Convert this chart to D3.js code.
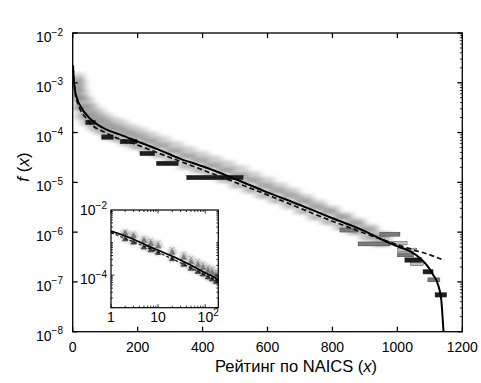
<!DOCTYPE html>
<html><head><meta charset="utf-8">
<script src="https://cdn.jsdelivr.net/npm/d3@7"></script>
<style>body{margin:0;background:#fff}svg{display:block;font-family:"Liberation Sans",Arial,Helvetica,sans-serif}</style>
</head><body><svg id="c" width="481" height="383"></svg>
<script>
// ---- data ----
const fitRank  = [1, 3, 6, 12, 25, 50, 80, 115, 150, 200, 270, 330, 400, 500, 600, 700, 800, 900, 950, 1000, 1040, 1070, 1090, 1110, 1125, 1135, 1142];
const fitValue = [2.24e-3, 1.26e-3, 7.9e-4, 5.2e-4, 3.3e-4, 2.0e-4, 1.4e-4, 1.07e-4, 8.9e-5, 6.6e-5, 4.4e-5, 3.0e-5, 2.1e-5, 1.17e-5, 6.3e-6, 3.5e-6, 1.9e-6, 1.05e-6, 7.2e-7, 5.2e-7, 4.1e-7, 3.0e-7, 2.2e-7, 1.4e-7, 8.9e-8, 4.5e-8, 1.0e-8];
const altRank  = [1, 10, 50, 100, 200, 400, 600, 800, 1000, 1050, 1100, 1145];
const altValue = [2.0e-3, 5.0e-4, 1.66e-4, 1.0e-4, 5.6e-5, 1.78e-5, 5.6e-6, 1.66e-6, 5.6e-7, 4.4e-7, 3.5e-7, 2.7e-7];

const sampleRank  = [2, 3, 5, 7, 10, 20, 35, 50, 70, 90, 115, 140, 170, 200, 235, 270, 310, 350, 390, 430, 470, 510, 550, 590, 630, 670, 710, 750, 790, 830, 870, 910, 950];
const upperValue  = [2.2e-3, 1.9e-3, 1.4e-3, 1.17e-3, 1.0e-3, 6.3e-4, 4.5e-4, 3.4e-4, 2.7e-4, 2.2e-4, 1.8e-4, 1.6e-4, 1.3e-4, 1.1e-4, 9.1e-5, 7.4e-5, 5.8e-5, 4.6e-5, 3.7e-5, 3.0e-5, 2.4e-5, 1.9e-5, 1.45e-5, 1.12e-5, 8.7e-6, 6.8e-6, 5.1e-6, 3.9e-6, 3.0e-6, 2.2e-6, 1.7e-6, 1.26e-6, 9.1e-7];
const middleValue = [1.9e-3, 1.55e-3, 1.12e-3, 9.1e-4, 7.6e-4, 4.9e-4, 3.4e-4, 2.5e-4, 2.0e-4, 1.66e-4, 1.35e-4, 1.17e-4, 9.8e-5, 8.3e-5, 6.8e-5, 5.5e-5, 4.3e-5, 3.4e-5, 2.75e-5, 2.2e-5, 1.78e-5, 1.38e-5, 1.1e-5, 8.5e-6, 6.8e-6, 5.4e-6, 4.2e-6, 3.2e-6, 2.6e-6, 2.0e-6, 1.5e-6, 1.12e-6, 7.9e-7];
const lowerValue  = [1.26e-3, 1.0e-3, 7.1e-4, 5.8e-4, 4.8e-4, 3.1e-4, 2.1e-4, 1.58e-4, 1.26e-4, 1.05e-4, 8.5e-5, 7.4e-5, 6.2e-5, 5.2e-5, 4.3e-5, 3.5e-5, 2.7e-5, 2.1e-5, 1.74e-5, 1.38e-5, 1.12e-5, 8.7e-6, 6.9e-6, 5.4e-6, 4.3e-6, 3.4e-6, 2.6e-6, 2.0e-6, 1.6e-6, 1.26e-6, 1.0e-6, 7.8e-7, 5.8e-7];

const darkBarStart = [40, 89, 146, 207, 258, 351, 1023, 1079, 1116];
const darkBarEnd   = [70, 125, 198, 253, 325, 525, 1075, 1110, 1152];
const darkBarValue = [1.6e-4, 8.1e-5, 6.6e-5, 3.8e-5, 2.4e-5, 1.25e-5, 2.75e-7, 1.6e-7, 5.5e-8];
const greyBarStart = [823, 879, 946, 1000, 1094];
const greyBarEnd   = [876, 977, 1008, 1050, 1131];
const greyBarValue = [1.1e-6, 5.8e-7, 9.1e-7, 3.5e-7, 1.1e-7];
const lightBarStart = [968, 1000, 1040];
const lightBarEnd   = [1030, 1060, 1080];
const lightBarValue = [6.0e-7, 4.4e-7, 2.3e-7];

const xTicks = [0, 200, 400, 600, 800, 1000, 1200];
const yTicks = [1e-8, 1e-7, 1e-6, 1e-5, 1e-4, 1e-3, 1e-2];
const insetXTicks = [1, 10, 100];
const insetYTicks = [1e-4, 1e-2];
const xTitle = "Рейтинг по NAICS (";

// ---- drawing ----
const svg = d3.select("#c");
const x = d3.scaleLinear().domain([0, 1200]).range([72.7, 462.3]);
const y = d3.scaleLog().domain([1e-8, 1e-2]).range([331.7, 33]);

const defs = svg.append("defs");
defs.append("clipPath").attr("id", "mainClip").append("rect")
  .attr("x", x(0)).attr("y", y(1e-2)).attr("width", x(1200) - x(0)).attr("height", y(1e-8) - y(1e-2));
defs.append("filter").attr("id", "blur").attr("x", "-20%").attr("y", "-50%").attr("width", "140%").attr("height", "200%")
  .append("feGaussianBlur").attr("stdDeviation", "3.5 1.4");
defs.append("filter").attr("id", "blur2").attr("x", "-50%").attr("y", "-50%").attr("width", "200%").attr("height", "200%")
  .append("feGaussianBlur").attr("stdDeviation", 1.0);

const plot = svg.append("g").attr("clip-path", "url(#mainClip)");
const exp = v => Math.round(Math.log10(v));

// cloud
const cloud = [
  {vals: upperValue, col: "#c8c8c8", op: 0.85, hw: 30},
  {vals: middleValue, col: "#999999", op: 0.85, hw: 28},
  {vals: lowerValue, col: "#888888", op: 0.6, hw: 24}
];
const cg = plot.append("g").attr("filter", "url(#blur)");
cloud.forEach(s => {
  cg.selectAll(null).data(sampleRank.map((r, i) => ({r, v: s.vals[i]})).filter(d => d.r >= 5))
    .enter().append("rect")
    .attr("x", d => x(Math.max(0, d.r - s.hw))).attr("width", d => x(d.r + s.hw) - x(Math.max(0, d.r - s.hw)))
    .attr("y", d => y(d.v) - 3).attr("height", 6)
    .attr("fill", s.col).attr("opacity", s.op);
});

function bars(starts, ends, vals, col, h) {
  plot.selectAll(null).data(starts.map((s, i) => ({s, e: ends[i], v: vals[i]})))
    .enter().append("rect")
    .attr("x", d => x(d.s)).attr("width", d => x(d.e) - x(d.s))
    .attr("y", d => y(d.v) - h / 2).attr("height", h)
    .attr("fill", col).attr("stroke", "#333").attr("stroke-width", 0.4);
}
bars(lightBarStart, lightBarEnd, lightBarValue, "#bdbdbd", 3.5);
bars(greyBarStart, greyBarEnd, greyBarValue, "#7a7a7a", 4);
bars(darkBarStart, darkBarEnd, darkBarValue, "#1e1e1e", 4.5);

const line = d3.line().x(d => x(d[0])).y(d => y(d[1])).curve(d3.curveMonotoneX);
plot.append("path").datum(altRank.map((r, i) => [r, altValue[i]]))
  .attr("d", line).attr("fill", "none").attr("stroke", "#111").attr("stroke-width", 1.7).attr("stroke-dasharray", "5,3");
plot.append("path").datum(fitRank.map((r, i) => [r, fitValue[i]]))
  .attr("d", line).attr("fill", "none").attr("stroke", "#000").attr("stroke-width", 2);

// axes box
const ax = svg.append("g").attr("stroke", "#000").attr("stroke-width", 1.3);
ax.append("rect").attr("x", x(0)).attr("y", y(1e-2)).attr("width", x(1200) - x(0)).attr("height", y(1e-8) - y(1e-2)).attr("fill", "none");
xTicks.forEach(t => {
  ax.append("line").attr("x1", x(t)).attr("x2", x(t)).attr("y1", y(1e-8)).attr("y2", y(1e-8) - 5);
  ax.append("line").attr("x1", x(t)).attr("x2", x(t)).attr("y1", y(1e-2)).attr("y2", y(1e-2) + 5);
});
yTicks.forEach(t => {
  ax.append("line").attr("x1", x(0)).attr("x2", x(0) + 5).attr("y1", y(t)).attr("y2", y(t));
  ax.append("line").attr("x1", x(1200)).attr("x2", x(1200) - 5).attr("y1", y(t)).attr("y2", y(t));
});
yTicks.slice(0, -1).forEach(t => {
  for (let k = 2; k <= 9; k++) {
    ax.append("line").attr("x1", x(1200)).attr("x2", x(1200) - 2.5).attr("y1", y(t * k)).attr("y2", y(t * k)).attr("stroke-width", 0.8);
  }
});

// labels
svg.selectAll(null).data(xTicks).enter().append("text")
  .attr("x", d => x(d)).attr("y", 352).attr("text-anchor", "middle").attr("font-size", 14).text(d => d);
yTicks.forEach(t => {
  const tx = svg.append("text").attr("x", 63).attr("y", y(t) + 9).attr("text-anchor", "end").attr("font-size", 14);
  tx.append("tspan").text("10");
  tx.append("tspan").attr("dy", -6.5).attr("font-size", 10).text("−" + Math.abs(exp(t)));
});
const xt = svg.append("text").attr("x", 296).attr("y", 372).attr("text-anchor", "middle").attr("font-size", 16.5);
xt.append("tspan").text(xTitle);
xt.append("tspan").attr("font-style", "italic").text("x");
xt.append("tspan").text(")");
const yt = svg.append("text").attr("transform", "translate(29,167) rotate(-90)").attr("text-anchor", "middle").attr("font-size", 17);
yt.append("tspan").attr("font-style", "italic").text("f");
yt.append("tspan").text(" (");
yt.append("tspan").attr("font-style", "italic").text("x");
yt.append("tspan").text(")");

// ---- inset ----
const ix = d3.scaleLog().domain([1, 190]).range([111, 218.3]);
const iy = d3.scaleLog().domain([1e-5, 1e-2]).range([307.7, 210]);
defs.append("clipPath").attr("id", "insetClip").append("rect")
  .attr("x", ix(1)).attr("y", iy(1e-2)).attr("width", ix(190) - ix(1)).attr("height", iy(1e-5) - iy(1e-2));
svg.append("rect").attr("x", ix(1)).attr("y", iy(1e-2)).attr("width", ix(190) - ix(1)).attr("height", iy(1e-5) - iy(1e-2)).attr("fill", "#fff");
const ip = svg.append("g").attr("clip-path", "url(#insetClip)");
const ig = ip.append("g").attr("filter", "url(#blur2)");
cloud.forEach(s => {
  ig.selectAll(null).data(sampleRank.map((r, i) => ({r, v: s.vals[i]})).filter(d => d.r <= 190))
    .enter().append("ellipse")
    .attr("cx", d => ix(d.r)).attr("cy", d => iy(d.v)).attr("rx", 5).attr("ry", 3)
    .attr("fill", s.col).attr("opacity", s.op * 0.6);
});
const sym = [
  {vals: upperValue, type: d3.symbolTimes, col: "#9a9a9a"},
  {vals: middleValue, type: d3.symbolTriangle, col: "#7a7a7a"},
  {vals: lowerValue, type: d3.symbolTriangle, col: "#444"}
];
sym.forEach(s => {
  ip.selectAll(null).data(sampleRank.map((r, i) => ({r, v: s.vals[i]})).filter(d => d.r <= 190))
    .enter().append("path")
    .attr("transform", d => `translate(${ix(d.r)},${iy(d.v)})`)
    .attr("d", d3.symbol().type(s.type).size(12))
    .attr("fill", s.type === d3.symbolTimes ? "none" : s.col)
    .attr("stroke", s.col).attr("stroke-width", 0.8);
});
const iline = d3.line().x(d => ix(d[0])).y(d => iy(d[1])).curve(d3.curveMonotoneX);
ip.append("path").datum(altRank.map((r, i) => [r, altValue[i]]).filter(d => d[0] <= 400))
  .attr("d", iline).attr("fill", "none").attr("stroke", "#111").attr("stroke-width", 1.2).attr("stroke-dasharray", "3,2");
ip.append("path").datum(fitRank.map((r, i) => [r, fitValue[i]]).filter(d => d[0] <= 270))
  .attr("d", iline).attr("fill", "none").attr("stroke", "#000").attr("stroke-width", 1.7);

const iax = svg.append("g").attr("stroke", "#000").attr("stroke-width", 1.2);
iax.append("rect").attr("x", ix(1)).attr("y", iy(1e-2)).attr("width", ix(190) - ix(1)).attr("height", iy(1e-5) - iy(1e-2)).attr("fill", "none");
[1, 10, 100].forEach(d => {
  for (let k = 1; k <= 9; k++) {
    const v = d * k;
    if (v > 190) break;
    const L = k === 1 ? 3.5 : 2;
    iax.append("line").attr("x1", ix(v)).attr("x2", ix(v)).attr("y1", iy(1e-5)).attr("y2", iy(1e-5) - L).attr("stroke-width", 0.8);
    iax.append("line").attr("x1", ix(v)).attr("x2", ix(v)).attr("y1", iy(1e-2)).attr("y2", iy(1e-2) + L).attr("stroke-width", 0.8);
  }
});
[1e-5, 1e-4, 1e-3].forEach(d => {
  for (let k = 1; k <= 9; k++) {
    const v = d * k;
    const L = (k === 1 && (d === 1e-4)) ? 3.5 : 2;
    iax.append("line").attr("x1", ix(1)).attr("x2", ix(1) + L).attr("y1", iy(v)).attr("y2", iy(v)).attr("stroke-width", 0.8);
    iax.append("line").attr("x1", ix(190)).attr("x2", ix(190) - L).attr("y1", iy(v)).attr("y2", iy(v)).attr("stroke-width", 0.8);
  }
});
insetXTicks.forEach(t => {
  const e = exp(t);
  const tx = svg.append("text").attr("x", ix(t) + (e === 2 ? 3 : 0)).attr("y", 322).attr("text-anchor", "middle").attr("font-size", 14);
  if (e === 0) tx.text("1");
  else if (e === 1) tx.text("10");
  else { tx.append("tspan").text("10"); tx.append("tspan").attr("dy", -6).attr("font-size", 10).text(e); }
});
insetYTicks.forEach(t => {
  const tx = svg.append("text").attr("x", 107).attr("y", iy(t) + (t === 1e-2 ? 5 : 9)).attr("text-anchor", "end").attr("font-size", 14);
  tx.append("tspan").text("10");
  tx.append("tspan").attr("dy", -6.5).attr("font-size", 10).text("−" + Math.abs(exp(t)));
});
</script></body></html>
